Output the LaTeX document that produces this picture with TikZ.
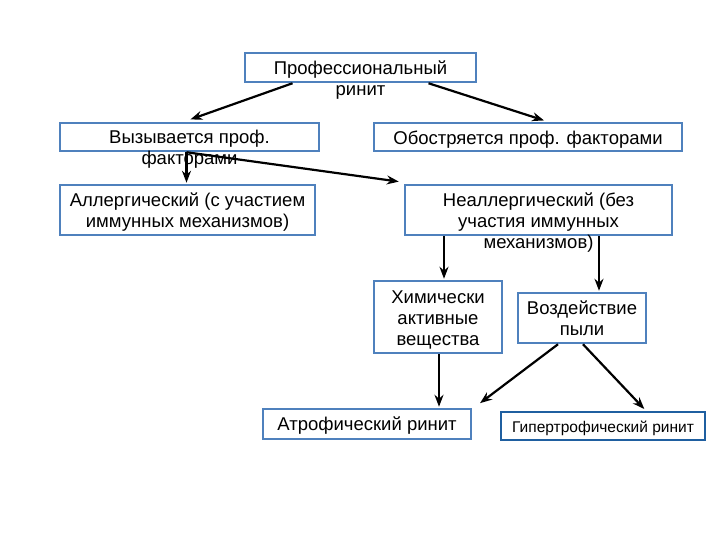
\documentclass[tikz,border=0pt]{standalone}
\usepackage{fontspec}
\setmainfont{Liberation Sans}
\usetikzlibrary{arrows.meta}

\definecolor{boxblue}{RGB}{79,129,189}
\definecolor{darkblue}{RGB}{31,95,160}

\tikzset{
  box/.style={draw=boxblue, line width=2.5pt, fill=white, inner sep=0pt},
  txt/.style={font=\fontsize{18.5}{21}\selectfont, align=center, inner sep=0pt, anchor=north},
  arr/.style={-{Stealth[length=12pt,width=9pt,inset=4pt]}, line width=2.2pt, shorten >=1pt}
}

\begin{document}
\begin{tikzpicture}[x=1pt, y=-1pt]
\useasboundingbox (0,0) rectangle (720,540);

% Level 1
\node[box, minimum width=231pt, minimum height=29pt,
  label={[txt, yshift=-8.5pt]north:Профессиональный\\ринит}] (prof) at (360.5,67.5) {};

% Level 2
\node[box, minimum width=259pt, minimum height=28pt,
  label={[txt, yshift=-8.5pt]north:Вызывается проф.\\факторами}] (cause) at (189.5,137) {};
\node[box, minimum width=308pt, minimum height=28pt,
  label={[txt, yshift=-8.5pt]north:Обостряется проф. факторами}] (worse) at (528,137) {};

% Level 3
\node[box, minimum width=255pt, minimum height=50pt,
  label={[txt, yshift=-9pt]north:Аллергический (с участием\\иммунных механизмов)}] (allerg) at (187.5,210) {};
\node[box, minimum width=267pt, minimum height=50pt,
  label={[txt, yshift=-9pt]north:Неаллергический (без\\участия иммунных\\механизмов)}] (nonall) at (538.5,210) {};

% Level 4
\node[box, minimum width=128pt, minimum height=72pt,
  label={[txt, yshift=-10.5pt]north:Химически\\активные\\вещества}] (chem) at (438,317) {};
\node[box, minimum width=128pt, minimum height=50pt,
  label={[txt, yshift=-9pt]north:Воздействие\\пыли}] (dust) at (582,318) {};

% Level 5
\node[box, minimum width=208pt, minimum height=30pt,
  label={[txt, yshift=-9pt]north:Атрофический ринит}] (atroph) at (367,424) {};
\node[box, draw=darkblue, minimum width=204pt, minimum height=28pt,
  label={[txt, font=\fontsize{15.5}{18}\selectfont, yshift=-10pt]north:Гипертрофический ринит}] (hyper) at (603,426) {};

% Connectors
\draw[arr] ([xshift=-68pt]prof.south) -- ([yshift=2pt]cause.north);
\draw[arr] ([xshift=68pt]prof.south) -- ([xshift=17pt,yshift=1pt]worse.north);
\draw[arr] ([xshift=-3pt]cause.south) -- ([xshift=-3pt]cause.south |- allerg.north);
\draw[arr] ([xshift=-3pt]cause.south) -- ([xshift=-4pt,yshift=2pt]nonall.north west);
\draw[arr] ([xshift=-94.5pt]nonall.south) -- ([xshift=-94.5pt]nonall.south |- chem.north);
\draw[arr] ([xshift=60.5pt]nonall.south) -- ([xshift=60.5pt]nonall.south |- dust.north);
\draw[arr] ([xshift=1pt]chem.south) -- ([xshift=1pt]chem.south |- atroph.north);
\draw[arr] ([xshift=-24pt]dust.south) -- ([xshift=7pt,yshift=4pt]atroph.north east);
\draw[arr] ([xshift=1pt]dust.south) -- ([xshift=42pt,yshift=1pt]hyper.north);

\end{tikzpicture}
\end{document}
